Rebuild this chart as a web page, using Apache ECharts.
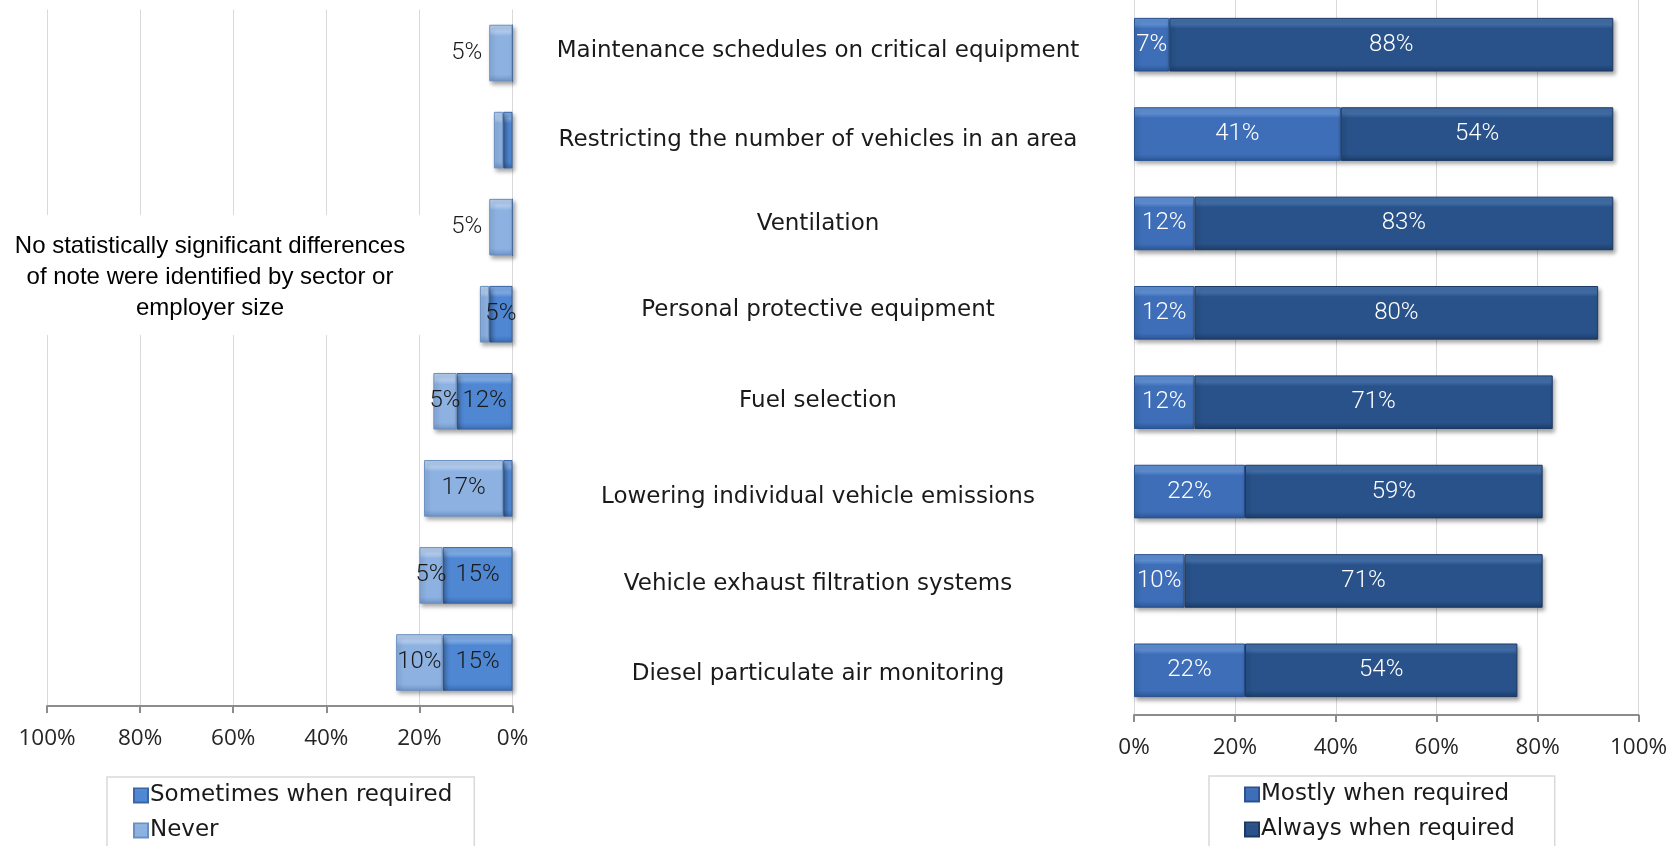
<!DOCTYPE html>
<html>
<head>
<meta charset="utf-8">
<script src="https://cdn.jsdelivr.net/npm/echarts@6/dist/echarts.min.js"></script>
<style>
  html, body { margin: 0; padding: 0; background: #ffffff; }
  #chart { width: 1673px; height: 846px; }
</style>
</head>
<body>
<div id="chart"></div>
<script>
// Control measures, listed top to bottom
const categories = [
  'Maintenance schedules on critical equipment',
  'Restricting the number of vehicles in an area',
  'Ventilation',
  'Personal protective equipment',
  'Fuel selection',
  'Lowering individual vehicle emissions',
  'Vehicle exhaust filtration systems',
  'Diesel particulate air monitoring'
];

// Share of respondents (%) for each frequency
const sometimesWhenRequired = [0, 2, 0, 5, 12, 2, 15, 15];
const never = [5, 2, 5, 2, 5, 17, 5, 10];
const mostlyWhenRequired = [7, 41, 12, 12, 12, 22, 10, 22];
const alwaysWhenRequired = [88, 54, 83, 80, 71, 59, 71, 54];

// Value axis ticks (%)
const axisTicks = [0, 20, 40, 60, 80, 100];

const note = 'No statistically significant differences\nof note were identified by sector or\nemployer size';

const chart = echarts.init(document.getElementById('chart'));

const TICK_FONT = "'Open Sans', sans-serif";
const TEXT_FONT = "'DejaVu Sans', sans-serif";
const LABEL_FONT = "Roboto, sans-serif";

// Small vertical nudges (px) for the category names in the middle column
const nameNudge = [6, 6, 1, -3, -1, 5, 3, 4];

function bevel(top, main, bottom) {
  return new echarts.graphic.LinearGradient(0, 0, 0, 1, [
    { offset: 0, color: top },
    { offset: 0.12, color: top },
    { offset: 0.2, color: main },
    { offset: 0.88, color: main },
    { offset: 1, color: bottom }
  ]);
}

const barShadow = {
  shadowColor: 'rgba(0,0,0,0.35)',
  shadowBlur: 4,
  shadowOffsetX: 2,
  shadowOffsetY: 3
};

const pct = p => (p.value >= 3 ? p.value + '%' : '');

const valueAxisCommon = {
  type: 'value',
  min: axisTicks[0],
  max: axisTicks[axisTicks.length - 1],
  interval: axisTicks[1] - axisTicks[0],
  axisLine: { show: true, lineStyle: { color: '#8c8c8c', width: 2 } },
  axisTick: { show: true, inside: false, length: 7, lineStyle: { color: '#8c8c8c', width: 2 } },
  splitLine: { show: true, lineStyle: { color: '#d9d9d9', width: 1 } },
  axisLabel: {
    formatter: '{value}%',
    fontFamily: TICK_FONT,
    fontSize: 22.5,
    color: '#262626',
    margin: 21
  }
};

// Bars with nothing in the first segment carry their label outside on the left
const neverData = never.map((v, i) =>
  sometimesWhenRequired[i] === 0
    ? { value: v, label: { position: 'left', distance: 7 } }
    : v
);

// Rich styles that shift each category name up or down a little
const nameRich = {};
nameNudge.forEach((d, i) => {
  nameRich['n' + i] = {
    fontFamily: TEXT_FONT,
    fontSize: 23,
    color: '#1a1a1a',
    padding: d >= 0 ? [2 * d, 0, 0, 0] : [0, 0, -2 * d, 0]
  };
});

const legendCommon = {
  orient: 'vertical',
  height: 120,
  itemWidth: 14,
  itemHeight: 14,
  itemGap: 8,
  icon: 'rect',
  borderColor: '#d9d9d9',
  borderWidth: 1.5,
  textStyle: { fontFamily: TEXT_FONT, fontSize: 23, lineHeight: 27, color: '#1a1a1a', padding: [0, 0, 0, -3] }
};

const dataLabel = {
  show: true,
  position: 'inside',
  formatter: pct,
  fontFamily: LABEL_FONT,
  fontWeight: 300,
  fontSize: 24
};

const option = {
  animation: false,
  backgroundColor: '#ffffff',
  grid: [
    { left: 47, top: 9.5, width: 465.5, height: 696.5 },
    { left: 1134, top: 0, width: 504.5, height: 715 }
  ],
  xAxis: [
    Object.assign({}, valueAxisCommon, { gridIndex: 0, inverse: true }),
    Object.assign({}, valueAxisCommon, { gridIndex: 1 })
  ],
  yAxis: [
    {
      type: 'category',
      gridIndex: 0,
      data: categories,
      inverse: true,
      axisLine: { show: false },
      axisTick: { show: false },
      axisLabel: { show: false }
    },
    {
      type: 'category',
      gridIndex: 1,
      data: categories,
      inverse: true,
      axisLine: { show: false },
      axisTick: { show: false },
      axisLabel: {
        show: true,
        align: 'center',
        margin: 316,
        fontFamily: TEXT_FONT,
        fontSize: 23,
        color: '#1a1a1a',
        formatter: (value, index) => '{n' + index + '|' + value + '}',
        rich: nameRich
      }
    }
  ],
  legend: [
    Object.assign({}, legendCommon, {
      data: ['Sometimes when required', 'Never'],
      left: 107,
      top: 777,
      padding: [5, 22, 20, 26]
    }),
    Object.assign({}, legendCommon, {
      data: ['Mostly when required', 'Always when required'],
      left: 1209,
      top: 776,
      padding: [5, 40, 20, 35]
    })
  ],
  series: [
    {
      name: 'Sometimes when required',
      type: 'bar',
      xAxisIndex: 0,
      yAxisIndex: 0,
      stack: 'left',
      barCategoryGap: '35%',
      data: sometimesWhenRequired,
      itemStyle: Object.assign({
        color: bevel('#7eabe6', '#4f87d3', '#3b6cb3'),
        borderColor: '#3a66a6',
        borderWidth: 1
      }, barShadow),
      label: Object.assign({ color: '#1a1a1a' }, dataLabel)
    },
    {
      name: 'Never',
      type: 'bar',
      xAxisIndex: 0,
      yAxisIndex: 0,
      stack: 'left',
      barCategoryGap: '35%',
      data: neverData,
      itemStyle: Object.assign({
        color: bevel('#b3cdef', '#8db2e2', '#6f95c8'),
        borderColor: '#6a8fc2',
        borderWidth: 1
      }, barShadow),
      label: Object.assign({ color: '#1a1a1a' }, dataLabel)
    },
    {
      name: 'Mostly when required',
      type: 'bar',
      xAxisIndex: 1,
      yAxisIndex: 1,
      stack: 'right',
      barCategoryGap: '40%',
      data: mostlyWhenRequired,
      itemStyle: Object.assign({
        color: bevel('#5f8fd3', '#3d6eb7', '#2c5698'),
        borderColor: '#2a5290',
        borderWidth: 1
      }, barShadow),
      label: Object.assign({ color: '#ffffff' }, dataLabel)
    },
    {
      name: 'Always when required',
      type: 'bar',
      xAxisIndex: 1,
      yAxisIndex: 1,
      stack: 'right',
      barCategoryGap: '40%',
      data: alwaysWhenRequired,
      itemStyle: Object.assign({
        color: bevel('#426ea8', '#285289', '#1c3d69'),
        borderColor: '#1b3a63',
        borderWidth: 1
      }, barShadow),
      label: Object.assign({ color: '#ffffff' }, dataLabel)
    }
  ],
  graphic: [
    {
      type: 'rect',
      z: 100,
      shape: { x: 0, y: 215, width: 445, height: 120 },
      style: { fill: '#ffffff' }
    },
    {
      type: 'text',
      z: 101,
      x: 210,
      y: 277,
      style: {
        text: note,
        fontFamily: "'Liberation Sans', Arial, sans-serif",
        fontSize: 24,
        lineHeight: 31,
        fill: '#000000',
        align: 'center',
        verticalAlign: 'middle'
      }
    }
  ]
};

chart.setOption(option);
</script>
</body>
</html>
